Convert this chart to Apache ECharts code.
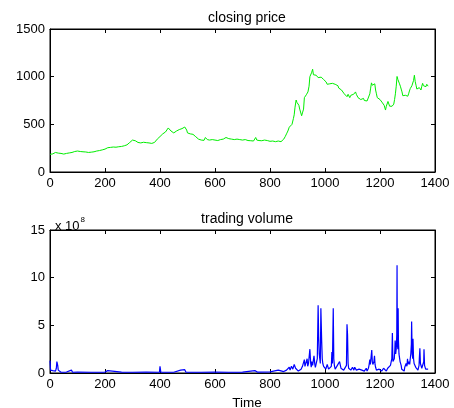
<!DOCTYPE html>
<html><head><meta charset="utf-8">
<script src="https://cdn.jsdelivr.net/npm/echarts@6/dist/echarts.min.js"></script>
<style>html,body{margin:0;padding:0;background:#fff}#c{width:454px;height:408px}</style>
</head><body><div id="c"></div>
<script>
const xTicks = [0,200,400,600,800,1000,1200,1400];
const priceTicks = [0,500,1000,1500];
const volumeTicks = [0,5,10,15];
// closing price: [day, price]
const price = [[0,185],[5,182],[10,190],[15,200],[20,205],[25,198],[30,198],[35,192],[40,195],[45,190],[50,188],[55,192],[60,195],[65,198],[70,200],[75,204],[80,205],[85,210],[90,215],[95,222],[100,220],[105,214],[110,215],[115,218],[120,212],[125,208],[130,210],[135,206],[140,205],[145,210],[150,208],[155,204],[160,212],[165,215],[170,220],[175,218],[180,225],[185,230],[190,232],[195,238],[200,240],[205,248],[210,255],[215,272],[220,258],[225,262],[230,262],[235,258],[240,260],[245,266],[250,265],[255,262],[260,268],[265,270],[270,275],[275,272],[280,285],[285,300],[290,310],[295,322],[300,335],[303,320],[306,330],[310,328],[315,318],[320,310],[325,314],[330,305],[335,310],[340,312],[345,305],[350,308],[355,312],[360,305],[365,308],[370,300],[375,302],[380,310],[385,330],[390,345],[395,360],[400,372],[405,385],[410,400],[415,395],[420,420],[425,440],[430,462],[433,445],[437,450],[440,430],[445,420],[450,410],[455,425],[460,430],[465,415],[470,445],[475,440],[480,455],[485,440],[490,472],[493,455],[497,440],[500,410],[505,405],[510,400],[515,390],[520,395],[525,380],[530,370],[535,360],[540,345],[545,338],[550,335],[555,330],[560,332],[565,362],[568,345],[572,340],[580,335],[585,342],[590,340],[595,332],[600,335],[605,340],[610,330],[615,334],[620,340],[625,338],[630,345],[635,352],[640,362],[645,352],[650,350],[655,344],[660,345],[665,348],[670,340],[675,342],[680,345],[685,338],[690,340],[695,336],[700,335],[705,338],[710,340],[715,334],[720,330],[725,332],[730,328],[735,330],[740,325],[745,330],[748,362],[752,335],[756,338],[760,330],[765,326],[770,328],[775,332],[780,335],[785,328],[790,330],[795,326],[800,322],[805,330],[810,325],[815,320],[820,318],[825,326],[830,325],[835,320],[840,318],[845,325],[850,345],[855,370],[860,400],[865,430],[870,470],[875,465],[880,500],[885,560],[888,600],[891,680],[895,755],[898,730],[902,720],[905,700],[908,660],[912,640],[915,590],[918,620],[922,660],[925,780],[928,790],[932,810],[935,800],[938,840],[942,900],[945,1000],[948,1020],[951,1040],[953,1060],[955,1078],[958,1020],[962,1030],[965,1000],[968,1015],[972,1005],[975,990],[978,1000],[982,985],[986,995],[990,975],[995,970],[1000,960],[1004,945],[1008,920],[1010,900],[1013,935],[1017,925],[1020,910],[1023,945],[1027,930],[1030,950],[1033,925],[1037,920],[1040,900],[1043,912],[1047,905],[1050,880],[1053,875],[1057,870],[1060,860],[1063,875],[1066,870],[1070,820],[1073,810],[1077,800],[1080,790],[1084,815],[1088,795],[1090,780],[1094,805],[1098,795],[1100,790],[1104,815],[1108,830],[1111,840],[1114,815],[1117,800],[1120,780],[1124,795],[1127,785],[1130,760],[1133,745],[1136,765],[1140,772],[1143,750],[1147,760],[1150,762],[1153,745],[1157,755],[1160,765],[1163,820],[1166,880],[1169,935],[1172,910],[1175,920],[1178,905],[1181,925],[1184,860],[1187,820],[1190,780],[1193,795],[1196,770],[1200,760],[1203,748],[1206,740],[1209,725],[1212,705],[1215,700],[1218,680],[1220,650],[1223,690],[1226,710],[1229,740],[1232,720],[1235,690],[1238,705],[1241,698],[1244,690],[1247,700],[1250,712],[1253,760],[1256,820],[1259,900],[1262,1002],[1265,970],[1268,955],[1271,925],[1274,900],[1277,870],[1280,840],[1283,800],[1286,780],[1289,812],[1292,805],[1295,790],[1298,800],[1301,795],[1304,820],[1307,850],[1310,875],[1313,895],[1316,905],[1319,925],[1322,960],[1325,1015],[1328,950],[1331,910],[1334,870],[1337,885],[1340,878],[1343,885],[1346,880],[1349,860],[1352,900],[1355,930],[1358,905],[1361,915],[1364,900],[1367,895],[1370,920],[1373,905],[1375,900]];
// trading volume (x 10^8): [day, volume]
const volume = [[0,1.3],[2,0.3],[5,0.5],[8,0.2],[10,0.25],[15,0.3],[20,0.2],[23,0.5],[25,1.2],[28,0.8],[30,0.3],[35,0.1],[40,0.08],[60,0.1],[78,0.3],[82,0.08],[100,0.1],[150,0.08],[200,0.1],[210,0.25],[214,0.08],[260,0.1],[300,0.08],[350,0.1],[398,0.08],[400,0.7],[403,0.1],[450,0.08],[475,0.3],[480,0.1],[490,0.35],[494,0.1],[550,0.08],[600,0.1],[650,0.08],[700,0.1],[745,0.25],[750,0.45],[754,0.1],[800,0.12],[830,0.3],[834,0.1],[850,0.15],[855,0.25],[860,0.3],[863,0.2],[867,0.5],[870,0.6],[873,0.3],[875,0.4],[878,0.7],[880,0.8],[883,0.4],[885,0.5],[888,0.9],[890,0.8],[893,0.5],[895,0.6],[898,0.3],[900,0.4],[903,0.2],[905,0.3],[908,0.15],[910,0.2],[913,0.4],[915,0.5],[918,0.7],[920,0.9],[922,0.6],[925,1.4],[927,0.7],[930,0.8],[932,1.2],[935,1.5],[937,0.7],[940,1.0],[943,0.8],[945,2.5],[948,1.0],[950,0.6],[952,1.2],[955,0.8],[958,1.0],[960,1.8],[963,0.9],[965,0.6],[968,0.8],[970,0.7],[972,1.5],[975,7.1],[977,3.8],[979,2.0],[981,1.5],[983,1.0],[985,6.8],[988,3.3],[990,1.5],[992,1.0],[995,0.7],[998,0.5],[1000,0.8],[1003,0.4],[1005,0.5],[1008,0.9],[1010,0.7],[1013,0.4],[1015,0.6],[1018,0.3],[1020,0.5],[1023,0.7],[1025,2.2],[1027,1.0],[1030,6.8],[1032,1.5],[1034,0.8],[1037,0.4],[1040,0.6],[1043,0.4],[1045,0.8],[1048,0.6],[1050,1.0],[1053,1.2],[1055,1.1],[1058,0.5],[1060,0.6],[1063,0.3],[1065,0.5],[1068,0.3],[1070,0.4],[1073,0.3],[1075,0.5],[1078,0.8],[1080,5.1],[1082,4.0],[1084,1.0],[1086,0.5],[1088,0.3],[1090,0.4],[1094,0.3],[1097,0.5],[1100,0.6],[1103,0.4],[1105,0.3],[1108,0.6],[1110,0.5],[1114,0.3],[1117,0.2],[1120,0.3],[1124,0.4],[1127,0.2],[1130,0.4],[1134,0.3],[1137,0.5],[1140,0.3],[1143,0.2],[1146,0.4],[1150,0.5],[1153,0.2],[1155,0.3],[1158,0.5],[1160,0.8],[1163,1.4],[1165,0.9],[1167,1.0],[1170,2.4],[1172,1.2],[1174,0.9],[1176,0.8],[1178,1.2],[1180,1.8],[1182,0.9],[1184,0.6],[1187,0.3],[1190,0.4],[1194,0.2],[1197,0.4],[1200,0.5],[1203,0.3],[1206,0.2],[1210,0.3],[1213,0.5],[1215,0.6],[1218,0.3],[1220,0.4],[1223,0.2],[1225,0.3],[1228,0.5],[1230,0.6],[1233,0.3],[1235,0.5],[1238,0.8],[1240,0.9],[1243,1.5],[1245,4.2],[1247,1.2],[1249,1.0],[1252,1.5],[1254,2.5],[1255,3.4],[1257,2.0],[1259,2.5],[1261,4.0],[1262,11.3],[1263,3.0],[1265,2.5],[1266,6.8],[1267,3.5],[1269,2.0],[1271,2.2],[1273,1.2],[1275,1.0],[1277,0.8],[1279,0.4],[1280,0.5],[1283,0.3],[1285,0.4],[1288,0.2],[1290,0.6],[1293,0.8],[1295,1.0],[1298,0.7],[1300,1.5],[1302,0.9],[1305,1.2],[1308,0.9],[1310,1.5],[1312,2.0],[1314,3.0],[1315,5.4],[1317,2.0],[1319,1.5],[1320,3.6],[1322,1.5],[1324,1.0],[1326,1.2],[1328,0.8],[1330,0.6],[1332,0.4],[1335,0.5],[1338,0.3],[1340,0.5],[1342,0.8],[1343,1.5],[1345,2.6],[1347,1.0],[1349,0.8],[1352,0.5],[1355,0.4],[1357,0.6],[1359,1.2],[1360,2.5],[1362,0.8],[1364,0.6],[1366,0.4],[1368,0.3],[1370,0.5],[1373,0.3],[1375,0.4]];

const FONT = 'Liberation Sans';
const lab = {color:'#000', fontFamily:FONT, fontSize:13, formatter:v=>String(v)};
function xAx(g, pos, showLab){
  return {type:'value', gridIndex:g, position:pos, min:xTicks[0], max:xTicks[xTicks.length-1], interval:200,
    axisLine:{show:true, onZero:false, lineStyle:{color:'#000', width:1}},
    axisTick:{show:true, inside:true, length:4, lineStyle:{color:'#000'}},
    axisLabel:{show:showLab, margin:5, ...lab}, splitLine:{show:false}};
}
function yAx(g, pos, ticks, showLab){
  return {type:'value', gridIndex:g, position:pos, min:ticks[0], max:ticks[ticks.length-1], interval:ticks[1]-ticks[0],
    axisLine:{show:true, onZero:false, lineStyle:{color:'#000', width:1}},
    axisTick:{show:true, inside:true, length:4, lineStyle:{color:'#000'}},
    axisLabel:{show:showLab, margin:5, ...lab}, splitLine:{show:false}};
}
const chart = echarts.init(document.getElementById('c'), null, {renderer:'canvas'});
chart.setOption({
  animation:false,
  backgroundColor:'#fff',
  title:[
    {text:'closing price', left:242, top:6, textAlign:'center', textStyle:{fontFamily:FONT, fontSize:14, fontWeight:'normal', color:'#000'}},
    {text:'trading volume', left:242, top:207, textAlign:'center', textStyle:{fontFamily:FONT, fontSize:14, fontWeight:'normal', color:'#000'}},
    {text:'{a|x 10}{s|8}', left:50, top:211, textStyle:{fontWeight:'normal', rich:{a:{fontFamily:FONT, fontSize:13, fontWeight:'normal', color:'#000', verticalAlign:'bottom'}, s:{fontFamily:FONT, fontSize:8, fontWeight:'normal', color:'#000', padding:[0,0,9,1]}}}},
    {text:'Time', left:242, top:391, textAlign:'center', textStyle:{fontFamily:FONT, fontSize:13.5, fontWeight:'normal', color:'#000'}}
  ],
  grid:[
    {left:50, right:19, top:29, height:143, show:true, borderColor:'#000', borderWidth:1, backgroundColor:'transparent'},
    {left:50, right:19, top:230, height:143, show:true, borderColor:'#000', borderWidth:1, backgroundColor:'transparent'}
  ],
  xAxis:[xAx(0,'bottom',true), xAx(0,'top',false), xAx(1,'bottom',true), xAx(1,'top',false)],
  yAxis:[yAx(0,'left',priceTicks,true), yAx(0,'right',priceTicks,false), yAx(1,'left',volumeTicks,true), yAx(1,'right',volumeTicks,false)],
  series:[
    {type:'line', xAxisIndex:0, yAxisIndex:0, data:price, showSymbol:false, lineStyle:{color:'#00ee00', width:1}, itemStyle:{color:'#00ee00'}},
    {type:'line', xAxisIndex:2, yAxisIndex:2, data:volume, showSymbol:false, lineStyle:{color:'#0000ff', width:1.2}, itemStyle:{color:'#0000ff'}}
  ]
});
</script></body></html>
